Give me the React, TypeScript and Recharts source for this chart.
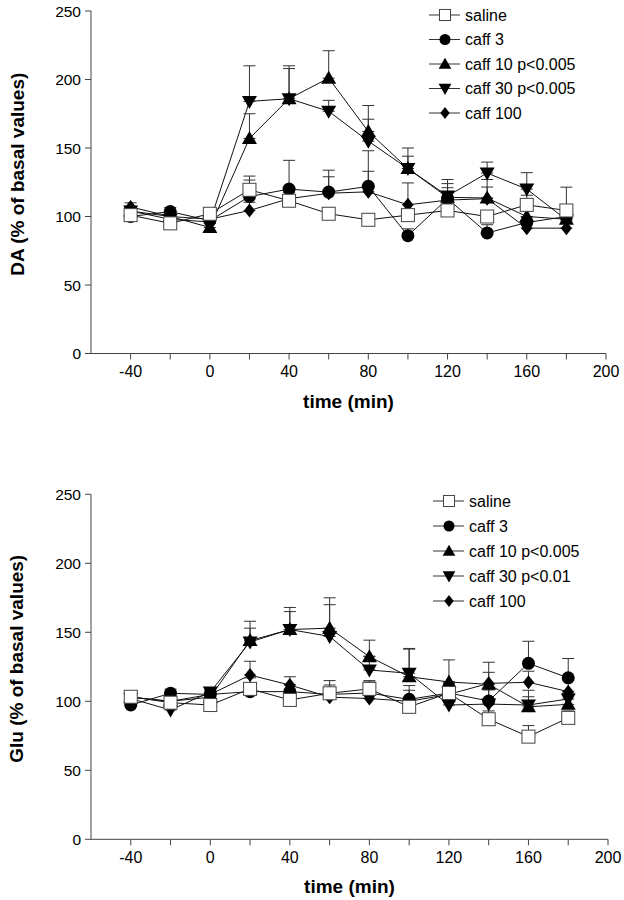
import React from 'react';
import { LineChart, Line, XAxis, YAxis, ErrorBar, Legend } from 'recharts';

// ---------- data ----------
const times = [-40, -20, 0, 20, 40, 60, 80, 100, 120, 140, 160, 180];
const xTicks = [-40, -20, 0, 20, 40, 60, 80, 100, 120, 140, 160, 180, 200];
const yTicks = [0, 50, 100, 150, 200, 250];

const shapes = ['square', 'circle', 'up', 'down', 'diamond'];
const daNames = ['saline', 'caff 3', 'caff 10 p<0.005', 'caff 30 p<0.005', 'caff 100'];
const gluNames = ['saline', 'caff 3', 'caff 10 p<0.005', 'caff 30 p<0.01', 'caff 100'];

// DA (% of basal values)
const daSaline = [101, 95, 102, 119.5, 111.5, 102, 97.6, 101, 104.4, 100, 108.5, 104.4];
const daCaff3 = [100, 103.6, 97, 114.6, 120, 117.8, 122, 86, 113, 88, 95.6, 100];
const daCaff10 = [104, 100, 92, 157, 186, 201, 162, 135, 114, 113.5, 100, 98];
const daCaff30 = [104, 98, 96, 184, 186, 176.8, 155, 135, 115, 131.7, 120, 97.6];
const daCaff100 = [107, 100, 98, 104.4, 113, 117, 118, 108.5, 112, 113, 91.5, 91.5];

const daSalineSem = [2, 2, 2, 10, 6, 4, 4, 4, 7, 4, 7, 17];
const daCaff3Sem = [3, 3, 3, 12, 21, 16, 11, 5, 8, 6, 9, 8];
const daCaff10Sem = [3, 3, 3, 18, 24, 20, 19, 15, 13, 8, 6, 5];
const daCaff30Sem = [3, 3, 3, 26, 22, 8, 16, 9, 9, 8, 12, 6];
const daCaff100Sem = [3, 3, 3, 6, 6, 12, 30, 16, 5, 14, 8, 5];

// Glu (% of basal values)
const gluSaline = [103.3, 99, 97.3, 109, 101, 105.8, 109, 96, 106, 87, 74.4, 88];
const gluCaff3 = [97.3, 105.8, 105, 107, 107, 105, 106, 101.4, 106, 100.2, 127.5, 117];
const gluCaff10 = [103, 100, 103, 144, 152, 153, 132.3, 117.8, 114, 112.3, 96, 97.8];
const gluCaff30 = [102, 93.7, 106.7, 143, 152, 147, 122.7, 120.3, 97.3, 98, 97.3, 101.7];
const gluCaff100 = [103, 100, 105, 119, 111.8, 103, 102, 100, 105, 113, 113.8, 107];

const gluSalineSem = [2, 2, 2, 8, 6, 6, 6, 5, 8, 6, 8, 5];
const gluCaff3Sem = [3, 3, 3, 5, 5, 5, 8, 10, 8, 8, 16, 14];
const gluCaff10Sem = [3, 3, 3, 14, 16, 22, 12, 20, 16, 16, 12, 8];
const gluCaff30Sem = [3, 3, 3, 10, 13, 23, 10, 18, 9, 14, 6, 5];
const gluCaff100Sem = [3, 3, 3, 10, 6, 12, 6, 8, 8, 8, 8, 8];

// ---------- helpers ----------
const FONT = '"Liberation Sans", Arial, Helvetica, sans-serif';

function buildRows(vals: number[][], sems: number[][]) {
  return times.map((t, i) => {
    const row: any = { t };
    vals.forEach((v, k) => {
      row['s' + k] = v[i];
      row['e' + k] = [0, sems[k][i]];
    });
    return row;
  });
}

function Marker({ shape, cx, cy, s = 1 }: any) {
  if (cx == null || cy == null) return null;
  switch (shape) {
    case 'square':
      return (
        <rect x={cx - 6.5 * s} y={cy - 6.5 * s} width={13 * s} height={13 * s}
          fill="#fff" stroke="#444" strokeWidth={1} />
      );
    case 'circle':
      return <circle cx={cx} cy={cy} r={6.5 * s} fill="#000" />;
    case 'up':
      return (
        <polygon
          points={`${cx},${cy - 7.5 * s} ${cx + 7.5 * s},${cy + 5.5 * s} ${cx - 7.5 * s},${cy + 5.5 * s}`}
          fill="#000" />
      );
    case 'down':
      return (
        <polygon
          points={`${cx},${cy + 7.5 * s} ${cx + 7.5 * s},${cy - 5.5 * s} ${cx - 7.5 * s},${cy - 5.5 * s}`}
          fill="#000" />
      );
    case 'diamond':
      return (
        <polygon
          points={`${cx},${cy - 7 * s} ${cx + 5.5 * s},${cy} ${cx},${cy + 7 * s} ${cx - 5.5 * s},${cy}`}
          fill="#000" />
      );
    default:
      return null;
  }
}

function YLabel({ viewBox, text, dy }: any) {
  const cx = (viewBox?.x ?? 0) + 17;
  const cy = (viewBox?.y ?? 0) + (viewBox?.height ?? 0) / 2 + dy;
  return (
    <text x={cx} y={cy} transform={`rotate(-90 ${cx} ${cy})`} textAnchor="middle"
      dominantBaseline="central" fontSize={19} fontWeight="bold" fontFamily={FONT} fill="#000">
      {text}
    </text>
  );
}

function XLabel({ viewBox, text }: any) {
  const cx = (viewBox?.x ?? 0) + (viewBox?.width ?? 0) / 2;
  const cy = (viewBox?.y ?? 0) + 47.5;
  return (
    <text x={cx} y={cy} textAnchor="middle" dominantBaseline="central"
      fontSize={19} fontWeight="bold" fontFamily={FONT} fill="#000">
      {text}
    </text>
  );
}

function LegendBox({ names, step }: any) {
  return (
    <svg width={200} height={130} style={{ display: 'block' }}>
      {names.map((n: string, i: number) => {
        const y = 12 + i * step;
        return (
          <g key={n}>
            <line x1={0} y1={y} x2={31} y2={y} stroke="#333" strokeWidth={1} />
            <Marker shape={shapes[i]} cx={16} cy={y} s={0.85} />
            <text x={36} y={y} dominantBaseline="central" fontSize={16} fontFamily={FONT} fill="#000">
              {n}
            </text>
          </g>
        );
      })}
    </svg>
  );
}

const drawOrder = [4, 3, 2, 1, 0];

function Panel({ rows, names, yLabel, margin, height, legendPos, legendStep, yLabelDy }: any) {
  return (
    <LineChart width={624} height={height} data={rows} margin={margin}>
      <XAxis
        dataKey="t"
        type="number"
        domain={[-60, 200]}
        ticks={xTicks}
        tickFormatter={(v: number) => (v % 40 === 0 ? String(v) : '')}
        tickSize={6}
        tickMargin={6}
        height={height - margin.top - margin.bottom - (height - margin.top - margin.bottom) + 0 + (margin.xh)}
        stroke="#444"
        tick={{ fill: '#000', fontSize: 16, fontFamily: FONT }}
        allowDecimals={false}
        label={<XLabel text="time (min)" />}
      />
      <YAxis
        type="number"
        domain={[0, 250]}
        ticks={yTicks}
        tickSize={6}
        tickMargin={4}
        width={91}
        stroke="#444"
        tick={{ fill: '#000', fontSize: 15.5, fontFamily: FONT }}
        label={<YLabel text={yLabel} dy={yLabelDy} />}
      />
      <Legend
        layout="horizontal"
        verticalAlign="middle"
        align="center"
        wrapperStyle={{ left: legendPos[0], top: legendPos[1], width: 200, height: 130 }}
        content={() => <LegendBox names={names} step={legendStep} />}
      />
      {drawOrder.map((k) => (
        <Line
          key={k}
          dataKey={'s' + k}
          name={names[k]}
          stroke="#111"
          strokeWidth={1}
          isAnimationActive={false}
          dot={(p: any) => (
            <g key={`dot-${k}-${p.index}`}>
              <Marker shape={shapes[k]} cx={p.cx} cy={p.cy} />
            </g>
          )}
          activeDot={false}
        >
          <ErrorBar dataKey={'e' + k} direction="y" width={6} stroke="#333" strokeWidth={1} />
        </Line>
      ))}
    </LineChart>
  );
}

export default function App() {
  const daRows = buildRows(
    [daSaline, daCaff3, daCaff10, daCaff30, daCaff100],
    [daSalineSem, daCaff3Sem, daCaff10Sem, daCaff30Sem, daCaff100Sem]
  );
  const gluRows = buildRows(
    [gluSaline, gluCaff3, gluCaff10, gluCaff30, gluCaff100],
    [gluSalineSem, gluCaff3Sem, gluCaff10Sem, gluCaff30Sem, gluCaff100Sem]
  );
  return (
    <div style={{ position: 'absolute', left: 0, top: 0, width: 624, height: 900, background: '#fff' }}>
      <div style={{ position: 'absolute', left: 0, top: 0 }}>
        <Panel
          rows={daRows}
          names={daNames}
          yLabel="DA (% of basal values)"
          height={420}
          margin={{ top: 11, right: 18, left: 0, bottom: 0, xh: 66.5 }}
          legendPos={[429, 3]}
          legendStep={24.5}
          yLabelDy={-8}
        />
      </div>
      <div style={{ position: 'absolute', left: 0, top: 440 }}>
        <Panel
          rows={gluRows}
          names={gluNames}
          yLabel="Glu (% of basal values)"
          height={460}
          margin={{ top: 54.3, right: 16, left: 0, bottom: 0, xh: 60.7 }}
          legendPos={[433, 49]}
          legendStep={25}
          yLabelDy={-8}
        />
      </div>
    </div>
  );
}
